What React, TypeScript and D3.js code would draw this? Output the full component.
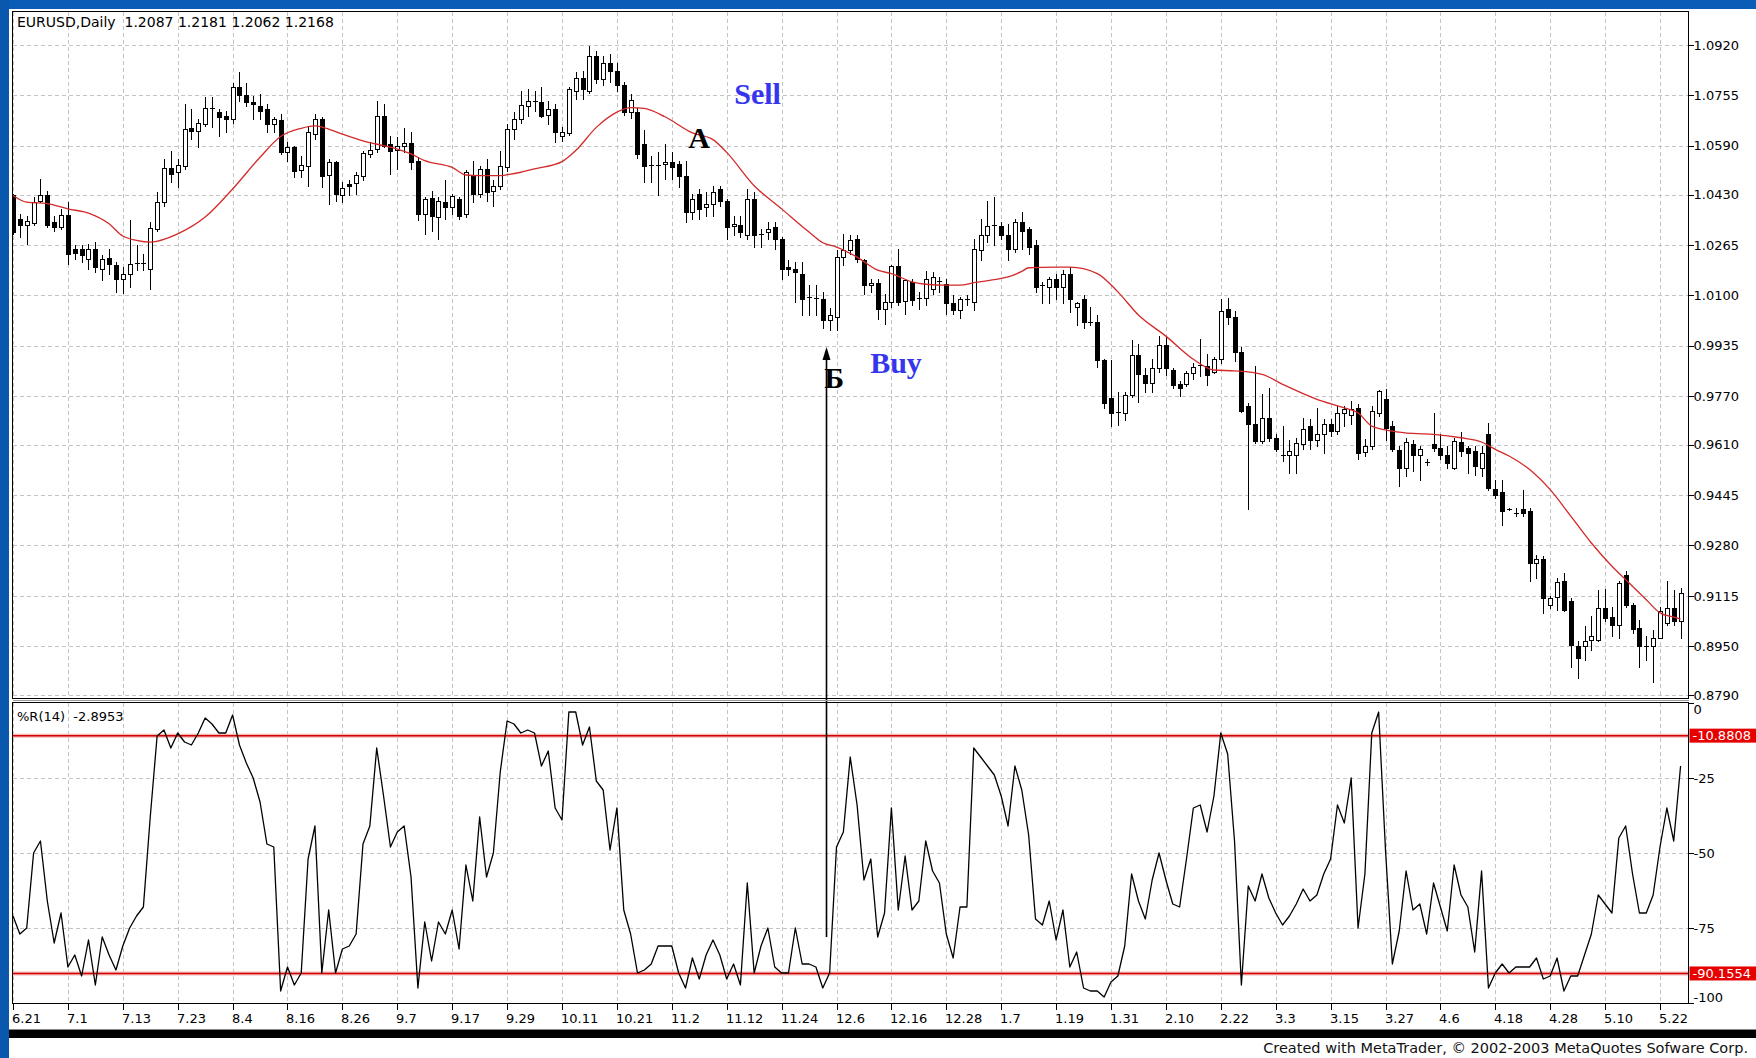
import React from "react";
import * as d3 from "d3";

const dateLabels = ["6.21","7.1","7.13","7.23","8.4","8.16","8.26","9.7","9.17","9.29","10.11","10.21","11.2","11.12","11.24","12.6","12.16","12.28","1.7","1.19","1.31","2.10","2.22","3.3","3.15","3.27","4.6","4.18","4.28","5.10","5.22"];
const priceTicks = ["1.0920","1.0755","1.0590","1.0430","1.0265","1.0100","0.9935","0.9770","0.9610","0.9445","0.9280","0.9115","0.8950","0.8790"];
const wprTicks = [0, -25, -50, -75, -100];
const wprGrid = [-25, -50, -75];
const wprLevels = [-10.8808, -90.1554];

const opens = [
1.0427,1.0350,1.0329,1.0338,1.0410,1.0427,1.0340,1.0323,1.0363,1.0252,
1.0252,1.0220,1.0252,1.0185,1.0222,1.0200,1.0152,1.0171,1.0203,1.0206,
1.0185,1.0318,1.0405,1.0516,1.0505,1.0525,1.0647,1.0639,1.0661,1.0715,
1.0699,1.0686,1.0677,1.0781,1.0756,1.0734,1.0721,1.0710,1.0661,1.0675,
1.0570,1.0585,1.0512,1.0525,1.0628,1.0677,1.0494,1.0538,1.0427,1.0465,
1.0468,1.0492,1.0563,1.0579,1.0686,1.0596,1.0576,1.0590,1.0599,1.0541,
1.0367,1.0418,1.0356,1.0407,1.0389,1.0414,1.0367,1.0492,1.0432,1.0514,
1.0440,1.0459,1.0519,1.0644,1.0679,1.0721,1.0737,1.0732,1.0690,1.0710,
1.0623,1.0631,1.0770,1.0813,1.0770,1.0884,1.0808,1.0860,1.0835,1.0790,
1.0700,1.0700,1.0595,1.0528,1.0525,1.0530,1.0536,1.0530,1.0492,1.0372,
1.0432,1.0389,1.0399,1.0448,1.0410,1.0326,1.0331,1.0296,1.0416,1.0302,
1.0307,1.0323,1.0285,1.0193,1.0185,1.0169,1.0093,1.0091,1.0087,1.0020,
1.0029,1.0225,1.0249,1.0285,1.0214,1.0135,1.0140,1.0056,1.0078,1.0195,
1.0080,1.0144,1.0089,1.0091,1.0122,1.0144,1.0138,1.0073,1.0051,1.0084,
1.0078,1.0247,1.0296,1.0326,1.0326,1.0296,1.0252,1.0340,1.0318,1.0263,
1.0133,1.0127,1.0154,1.0127,1.0171,1.0062,1.0089,1.0013,1.0013,0.9887,
0.9762,0.9716,0.9713,0.9773,0.9903,0.9838,0.9811,0.9860,0.9936,0.9855,
0.9808,0.9808,0.9844,0.9868,0.9868,0.9848,0.9890,1.0056,1.0030,0.9914,
0.9737,0.9677,0.9622,0.9699,0.9633,0.9576,0.9575,0.9575,0.9611,0.9671,
0.9627,0.9644,0.9677,0.9655,0.9715,0.9709,0.9731,0.9586,0.9605,0.9715,
0.9761,0.9671,0.9592,0.9534,0.9611,0.9578,0.9554,0.9614,0.9600,0.9575,
0.9534,0.9619,0.9600,0.9589,0.9534,0.9644,0.9466,0.9455,0.9400,0.9388,
0.9400,0.9392,0.9223,0.9236,0.9086,0.9111,0.9162,0.9097,0.8949,0.8949,
0.8971,0.8971,0.9075,0.9045,0.9020,0.9184,0.9086,0.9009,0.8952,0.8951,
0.8976,0.9026,0.9075,0.9031];

const highs = [
1.0432,1.0366,1.0361,1.0421,1.0481,1.0443,1.0361,1.0383,1.0405,1.0263,
1.0263,1.0268,1.0274,1.0231,1.0252,1.0209,1.0193,1.0345,1.0263,1.0236,
1.0340,1.0438,1.0547,1.0574,1.0547,1.0726,1.0710,1.0677,1.0748,1.0748,
1.0710,1.0704,1.0797,1.0830,1.0797,1.0753,1.0759,1.0726,1.0683,1.0694,
1.0601,1.0590,1.0557,1.0655,1.0694,1.0683,1.0547,1.0541,1.0470,1.0476,
1.0503,1.0574,1.0601,1.0737,1.0726,1.0623,1.0617,1.0647,1.0634,1.0552,
1.0421,1.0443,1.0421,1.0476,1.0432,1.0421,1.0509,1.0541,1.0525,1.0547,
1.0476,1.0574,1.0661,1.0699,1.0770,1.0775,1.0770,1.0781,1.0737,1.0726,
1.0650,1.0781,1.0830,1.0835,1.0917,1.0900,1.0884,1.0890,1.0860,1.0800,
1.0760,1.0715,1.0640,1.0557,1.0568,1.0595,1.0568,1.0541,1.0541,1.0432,
1.0448,1.0438,1.0459,1.0459,1.0416,1.0361,1.0361,1.0448,1.0438,1.0318,
1.0340,1.0340,1.0291,1.0214,1.0209,1.0209,1.0132,1.0132,1.0111,1.0057,
1.0247,1.0301,1.0296,1.0296,1.0220,1.0154,1.0154,1.0105,1.0200,1.0252,
1.0154,1.0154,1.0111,1.0181,1.0176,1.0160,1.0154,1.0100,1.0094,1.0100,
1.0285,1.0350,1.0410,1.0421,1.0340,1.0334,1.0350,1.0372,1.0323,1.0280,
1.0144,1.0160,1.0171,1.0182,1.0193,1.0078,1.0100,1.0062,1.0035,0.9892,
0.9887,0.9784,0.9784,0.9952,0.9941,0.9860,0.9892,0.9968,0.9963,0.9860,
0.9819,0.9852,0.9879,0.9956,0.9906,0.9896,1.0087,1.0092,1.0049,0.9932,
0.9748,0.9868,0.9775,0.9797,0.9644,0.9671,0.9627,0.9633,0.9698,0.9695,
0.9731,0.9693,0.9693,0.9737,0.9737,0.9753,0.9745,0.9630,0.9737,0.9791,
0.9794,0.9688,0.9605,0.9633,0.9627,0.9605,0.9562,0.9715,0.9644,0.9605,
0.9633,0.9652,0.9605,0.9605,0.9605,0.9682,0.9496,0.9496,0.9402,0.9403,
0.9463,0.9403,0.9250,0.9244,0.9115,0.9173,0.9190,0.9108,0.8966,0.9015,
0.9048,0.9135,0.9137,0.9080,0.9162,0.9195,0.9091,0.9037,0.8982,0.9004,
0.9080,0.9162,0.9135,0.9140];

const lows = [
1.0302,1.0290,1.0269,1.0329,1.0405,1.0323,1.0310,1.0318,1.0203,1.0220,
1.0209,1.0185,1.0176,1.0149,1.0171,1.0111,1.0106,1.0127,1.0182,1.0182,
1.0122,1.0312,1.0394,1.0470,1.0454,1.0514,1.0612,1.0585,1.0655,1.0650,
1.0623,1.0634,1.0666,1.0737,1.0721,1.0677,1.0677,1.0634,1.0634,1.0563,
1.0541,1.0487,1.0487,1.0459,1.0612,1.0454,1.0400,1.0410,1.0405,1.0427,
1.0432,1.0476,1.0552,1.0568,1.0585,1.0498,1.0514,1.0568,1.0514,1.0345,
1.0302,1.0312,1.0285,1.0350,1.0367,1.0350,1.0356,1.0405,1.0421,1.0410,
1.0394,1.0448,1.0508,1.0612,1.0666,1.0688,1.0704,1.0683,1.0661,1.0601,
1.0606,1.0625,1.0742,1.0742,1.0764,1.0797,1.0790,1.0800,1.0770,1.0690,
1.0680,1.0550,1.0470,1.0470,1.0427,1.0481,1.0481,1.0454,1.0340,1.0350,
1.0350,1.0361,1.0361,1.0394,1.0285,1.0296,1.0291,1.0285,1.0258,1.0258,
1.0285,1.0252,1.0154,1.0165,1.0078,1.0035,1.0035,1.0035,0.9991,0.9985,
0.9985,1.0198,1.0236,1.0209,1.0105,1.0111,1.0023,1.0007,1.0062,1.0067,
1.0040,1.0067,1.0056,1.0067,1.0105,1.0111,1.0040,1.0040,1.0024,1.0067,
1.0051,1.0214,1.0274,1.0263,1.0285,1.0214,1.0241,1.0252,1.0236,1.0111,
1.0073,1.0073,1.0089,1.0073,1.0046,1.0002,0.9991,1.0002,0.9865,0.9729,
0.9670,0.9675,0.9691,0.9767,0.9751,0.9784,0.9784,0.9849,0.9838,0.9795,
0.9770,0.9803,0.9824,0.9835,0.9805,0.9844,0.9879,1.0005,0.9884,0.9717,
0.9398,0.9616,0.9616,0.9622,0.9589,0.9556,0.9518,0.9518,0.9595,0.9595,
0.9605,0.9584,0.9638,0.9644,0.9673,0.9677,0.9564,0.9573,0.9595,0.9704,
0.9627,0.9589,0.9474,0.9507,0.9523,0.9496,0.9545,0.9589,0.9562,0.9534,
0.9529,0.9573,0.9518,0.9512,0.9507,0.9463,0.9436,0.9348,0.9396,0.9376,
0.9376,0.9162,0.9173,0.9059,0.9075,0.9069,0.9064,0.8883,0.8845,0.8905,
0.8938,0.8966,0.9031,0.8982,0.8976,0.9080,0.8993,0.8883,0.8905,0.8834,
0.8976,0.9020,0.9020,0.8976];

const closes = [
1.0307,1.0329,1.0344,1.0407,1.0429,1.0329,1.0323,1.0363,1.0236,1.0239,
1.0231,1.0252,1.0193,1.0220,1.0203,1.0154,1.0171,1.0203,1.0206,1.0203,
1.0321,1.0405,1.0516,1.0498,1.0527,1.0644,1.0639,1.0664,1.0715,1.0710,
1.0683,1.0677,1.0781,1.0756,1.0734,1.0726,1.0704,1.0661,1.0679,1.0568,
1.0585,1.0508,1.0527,1.0634,1.0677,1.0492,1.0536,1.0432,1.0451,1.0459,
1.0494,1.0566,1.0577,1.0686,1.0590,1.0574,1.0590,1.0599,1.0536,1.0367,
1.0416,1.0361,1.0410,1.0389,1.0424,1.0361,1.0503,1.0432,1.0514,1.0438,
1.0459,1.0523,1.0644,1.0679,1.0723,1.0737,1.0732,1.0688,1.0710,1.0634,
1.0634,1.0775,1.0813,1.0775,1.0884,1.0808,1.0860,1.0835,1.0790,1.0700,
1.0740,1.0563,1.0525,1.0525,1.0527,1.0536,1.0519,1.0492,1.0372,1.0416,
1.0383,1.0399,1.0438,1.0410,1.0323,1.0334,1.0307,1.0416,1.0296,1.0298,
1.0318,1.0285,1.0187,1.0187,1.0176,1.0089,1.0091,1.0087,1.0018,1.0035,
1.0225,1.0247,1.0280,1.0220,1.0133,1.0140,1.0056,1.0078,1.0195,1.0078,
1.0149,1.0084,1.0091,1.0154,1.0160,1.0147,1.0073,1.0051,1.0089,1.0089,
1.0252,1.0296,1.0326,1.0329,1.0296,1.0252,1.0340,1.0312,1.0258,1.0127,
1.0130,1.0154,1.0127,1.0171,1.0089,1.0073,1.0013,1.0010,0.9887,0.9746,
0.9713,0.9713,0.9773,0.9903,0.9843,0.9811,0.9860,0.9936,0.9860,0.9806,
0.9797,0.9844,0.9866,0.9871,0.9837,0.9890,1.0049,1.0030,0.9914,0.9720,
0.9677,0.9622,0.9699,0.9633,0.9595,0.9573,0.9589,0.9616,0.9662,0.9627,
0.9644,0.9677,0.9655,0.9715,0.9728,0.9726,0.9584,0.9605,0.9720,0.9786,
0.9666,0.9595,0.9534,0.9619,0.9578,0.9595,0.9553,0.9600,0.9575,0.9549,
0.9622,0.9589,0.9584,0.9540,0.9584,0.9469,0.9447,0.9392,0.9398,0.9386,
0.9385,0.9223,0.9236,0.9108,0.9108,0.9159,0.9069,0.8954,0.8911,0.8966,
0.8982,0.9075,0.9042,0.9020,0.9157,0.9086,0.9006,0.8949,0.8951,0.8976,
0.9064,0.9075,0.9031,0.9124];

const maIndex = [0,2,5,8,11,14,16,18,20,24,28,32,36,39,42,44,46,48,51,54,56,58,60,64,66,68,71,72,74,76,80,82,85,88,90,92,95,99,102,104,108,112,116,118,120,123,126,128,131,133,136,138,140,143,145,147,148,152,154,158,161,164,168,172,175,178,182,185,190,194,196,198,201,204,207,211,214,216,218,221,224,227,230,233,235,238,240,242,243];
const maValues = [1.0427,1.0405,1.0400,1.0383,1.0369,1.0334,1.0294,1.0280,1.0274,1.0301,1.0356,1.0448,1.0552,1.0620,1.0647,1.0655,1.0644,1.0628,1.0606,1.0590,1.0579,1.0563,1.0541,1.0519,1.0494,1.0492,1.0492,1.0495,1.0503,1.0514,1.0538,1.0574,1.0650,1.0700,1.0715,1.0712,1.0685,1.0632,1.0610,1.0568,1.0459,1.0383,1.0307,1.0272,1.0258,1.0225,1.0182,1.0171,1.0144,1.0136,1.0133,1.0133,1.0141,1.0151,1.0160,1.0178,1.0190,1.0192,1.0192,1.0171,1.0111,1.0035,0.9966,0.9890,0.9855,0.9852,0.9841,0.9808,0.9759,0.9731,0.9715,0.9671,0.9655,0.9647,0.9644,0.9633,0.9619,0.9595,0.9573,0.9529,0.9463,0.9376,0.9288,0.9212,0.9168,0.9102,0.9059,0.9045,0.9039];

const wpr = [
-71,-77,-75,-50,-46,-66,-80,-70,-88,-84,
-91,-79,-94,-78,-84,-89,-81,-75,-71,-68,
-38,-11,-9,-15,-10,-13,-14,-10,-5,-7,
-10,-10,-4,-14,-20,-25,-33,-47,-48,-96,
-88,-94,-90,-52,-41,-90,-69,-90,-82,-81,
-77,-47,-41,-15,-31,-48,-43,-41,-58,-95,
-73,-86,-73,-77,-69,-82,-54,-66,-38,-58,
-50,-23,-6,-7,-10,-9,-10,-21,-16,-35,
-39,-3,-3,-14,-8,-26,-29,-49,-35,-69,
-77,-90,-89,-87,-81,-81,-81,-90,-95,-85,
-92,-84,-79,-84,-92,-87,-94,-60,-90,-81,
-75,-88,-90,-90,-75,-87,-87,-88,-95,-90,
-48,-43,-18,-34,-59,-52,-78,-70,-35,-69,
-51,-69,-66,-46,-56,-60,-77,-85,-68,-68,
-15,-18,-21,-24,-31,-41,-21,-29,-44,-72,
-74,-66,-79,-69,-88,-83,-95,-96,-96,-98,
-93,-91,-81,-57,-66,-72,-59,-50,-59,-67,
-68,-52,-35,-34,-43,-31,-10,-17,-46,-94,
-61,-66,-57,-65,-70,-74,-71,-67,-62,-66,
-64,-57,-52,-34,-40,-25,-75,-57,-10,-3,
-49,-87,-76,-56,-69,-67,-77,-60,-68,-76,
-54,-64,-68,-83,-56,-95,-90,-87,-90,-88,
-88,-88,-85,-92,-91,-85,-96,-91,-91,-84,
-77,-64,-67,-70,-45,-41,-57,-70,-70,-64,
-48,-35,-46,-21];

const labels = [
  { text: "Sell", bar: 105.1, price: 1.0727, color: "#3535ee" },
  { text: "Buy", bar: 124.9, price: 0.9846, color: "#3535ee" },
  { text: "А", bar: 98.4, price: 1.0582, color: "#000000" },
  { text: "Б", bar: 118.2, price: 0.9797, color: "#000000" },
];
const arrow = { bar: 118.5, tipPrice: 0.9930, baseWpr: -78 };

const UI = "'DejaVu Sans', Tahoma, sans-serif";

export default function App() {
  const W = 1756, H = 1058;
  const L = 12.5, R = 1688.5, mT = 11.5, mB = 698.5, wT = 702.5, wB = 1003.5;
  const x = d3.scaleLinear().domain([0, 240]).range([13, 1660]);
  const y = d3.scaleLinear().domain([0.879, 1.092]).range([695, 45]);
  const yr = d3.scaleLinear().domain([-100, 0]).range([1003, 703]);
  const snap = (v: number) => Math.round(v) + 0.5;
  const bars = d3.range(closes.length);
  const ticks = dateLabels.map((_, k) => k * 8);

  const maLine = d3.line<number>().x(i => x(maIndex[i])).y(i => y(maValues[i])).curve(d3.curveMonotoneX)(d3.range(maIndex.length)) || "";
  const wprPath = d3.line<number>().x(i => x(i)).y(i => yr(wpr[i]))(bars) || "";

  const gridColor = "#c4c4c4";
  const ax = snap(x(arrow.bar));
  const tipY = y(arrow.tipPrice);

  return (
    <svg width={W} height={H} style={{ position: "absolute", left: 0, top: 0, display: "block" }} fontFamily={UI}>
      <defs>
        <clipPath id="mainClip"><rect x={L} y={mT} width={R - L} height={mB - mT} /></clipPath>
        <clipPath id="wprClip"><rect x={L} y={wT} width={R - L} height={wB - wT} /></clipPath>
      </defs>
      <rect x={0} y={0} width={W} height={H} fill="#ffffff" />
      <rect x={0} y={0} width={W} height={9} fill="#0a5cb6" />
      <rect x={0} y={0} width={9} height={H} fill="#0a58ae" />

      <g stroke={gridColor} strokeWidth={1} strokeDasharray="4,3" shapeRendering="crispEdges">
        {ticks.map(t => <line key={"vm" + t} x1={snap(x(t))} x2={snap(x(t))} y1={mT} y2={mB} />)}
        {priceTicks.map(p => <line key={"hm" + p} x1={L} x2={R} y1={snap(y(+p))} y2={snap(y(+p))} />)}
        {ticks.map(t => <line key={"vw" + t} x1={snap(x(t))} x2={snap(x(t))} y1={wT} y2={wB} />)}
        {wprGrid.map(v => <line key={"hw" + v} x1={L} x2={R} y1={snap(yr(v))} y2={snap(yr(v))} />)}
      </g>

      <g clipPath="url(#mainClip)">
        {bars.map(i => {
          const cx = Math.round(x(i));
          const o = opens[i], c = closes[i];
          const top = Math.round(y(Math.max(o, c)));
          const bot = Math.round(y(Math.min(o, c)));
          const bull = c >= o;
          return (
            <g key={i}>
              <line x1={cx + 0.5} x2={cx + 0.5} y1={Math.round(y(highs[i]))} y2={Math.round(y(lows[i])) + 1} stroke="#000" strokeWidth={1} shapeRendering="crispEdges" />
              {bot - top < 2 ? (
                <line x1={cx - 2} x2={cx + 3} y1={top + 0.5} y2={top + 0.5} stroke="#000" strokeWidth={1} shapeRendering="crispEdges" />
              ) : (
                <rect x={cx - 1.5} y={top + 0.5} width={4} height={bot - top} fill={bull ? "#fff" : "#000"} stroke="#000" strokeWidth={1} shapeRendering="crispEdges" />
              )}
            </g>
          );
        })}
        <path d={maLine} fill="none" stroke="#d22a2a" strokeWidth={1.3} />
      </g>

      <g clipPath="url(#wprClip)">
        {wprLevels.map(v => (
          <g key={"lv" + v}>
            <line x1={L} x2={R} y1={yr(v)} y2={yr(v)} stroke="#f2b8b8" strokeWidth={4} />
            <line x1={L} x2={R} y1={yr(v)} y2={yr(v)} stroke="#d40000" strokeWidth={1.5} />
          </g>
        ))}
        <path d={wprPath} fill="none" stroke="#000" strokeWidth={1.3} strokeLinejoin="round" />
      </g>

      <line x1={ax} x2={ax} y1={yr(arrow.baseWpr)} y2={tipY + 8} stroke="#000" strokeWidth={1.6} />
      <path d={`M${ax},${tipY} L${ax - 4},${tipY + 13} L${ax + 4},${tipY + 13} Z`} fill="#000" />

      {labels.map(l => (
        <text key={l.text} x={x(l.bar)} y={y(l.price)} fill={l.color} fontFamily="'Liberation Serif', 'Times New Roman', serif" fontWeight="bold" fontSize={30}>{l.text}</text>
      ))}

      <g fill="none" stroke="#000" strokeWidth={1} shapeRendering="crispEdges">
        <rect x={L} y={mT} width={R - L} height={mB - mT} />
        <rect x={L} y={wT} width={R - L} height={wB - wT} />
      </g>
      <line x1={L} x2={R} y1={700.5} y2={700.5} stroke="#9a9a9a" strokeWidth={1} shapeRendering="crispEdges" />

      {priceTicks.map(p => (
        <g key={"pl" + p}>
          <line x1={R} x2={R + 5} y1={snap(y(+p))} y2={snap(y(+p))} stroke="#000" shapeRendering="crispEdges" />
          <text x={R + 5} y={y(+p)} dy="0.36em" fontSize={13} fill="#000">{p}</text>
        </g>
      ))}
      {wprTicks.map(v => {
        const ty = Math.min(Math.max(yr(v), 709), 997);
        return (
          <g key={"wl" + v}>
            <line x1={R} x2={R + 5} y1={snap(yr(v))} y2={snap(yr(v))} stroke="#000" shapeRendering="crispEdges" />
            <text x={R + 5} y={ty} dy="0.36em" fontSize={13} fill="#000">{v === 0 ? "0" : String(v)}</text>
          </g>
        );
      })}
      {wprLevels.map(v => (
        <g key={"ll" + v}>
          <rect x={R + 1} y={yr(v) - 7} width={W - R} height={14} fill="#e60000" />
          <text x={R + 4} y={yr(v)} dy="0.36em" fontSize={13} fill="#fff">{v.toFixed(4)}</text>
        </g>
      ))}

      {ticks.map((t, k) => (
        <g key={"dl" + t}>
          <line x1={snap(x(t))} x2={snap(x(t))} y1={wB} y2={wB + 6} stroke="#000" shapeRendering="crispEdges" />
          <text x={Math.round(x(t)) - 1} y={1023} fontSize={13} fill="#000">{dateLabels[k]}</text>
        </g>
      ))}

      <text x={17} y={27} fontSize={14} fill="#000" xmlSpace="preserve">{"EURUSD,Daily  1.2087 1.2181 1.2062 1.2168"}</text>
      <text x={17} y={721} fontSize={13} fill="#000" xmlSpace="preserve">{"%R(14)  -2.8953"}</text>

      <rect x={9} y={1029} width={W - 9} height={1} fill="#888" />
      <rect x={9} y={1030} width={W - 9} height={8} fill="#000" />
      <text x={1748} y={1053} fontSize={14.5} textAnchor="end" fill="#111">Created with MetaTrader, © 2002-2003 MetaQuotes Sofware Corp.</text>
    </svg>
  );
}
